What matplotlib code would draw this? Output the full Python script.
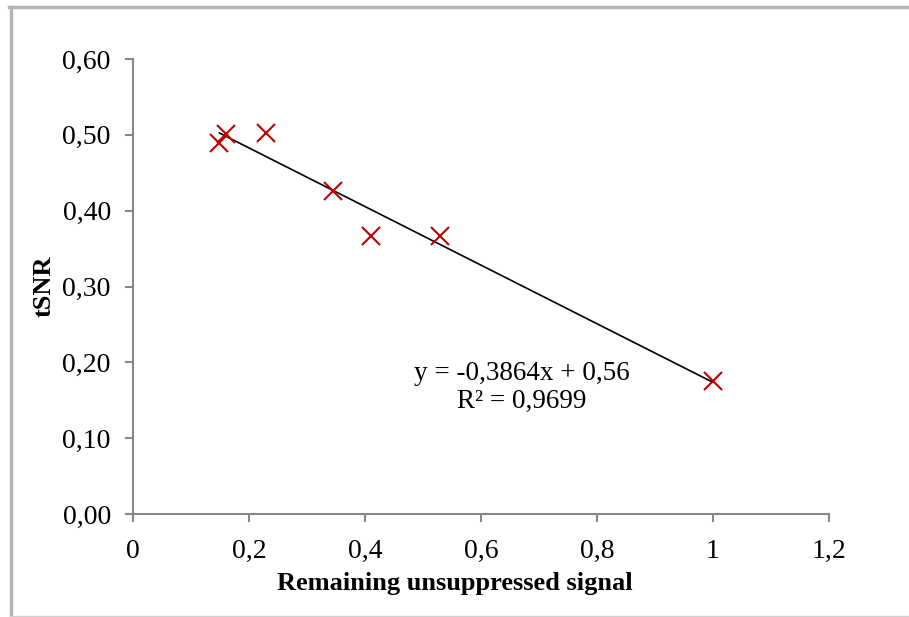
import numpy as np
import matplotlib
matplotlib.use('Agg')
import matplotlib.pyplot as plt
from matplotlib.lines import Line2D

# data
signal = [0.149, 0.160, 0.229, 0.344, 0.411, 0.529, 1.000]
tsnr = [0.489, 0.501, 0.502, 0.426, 0.366, 0.367, 0.175]
slope, intercept = -0.3864, 0.56
eq_text = 'y = -0,3864x + 0,56\nR² = 0,9699'

x_ticks = [0, 0.2, 0.4, 0.6, 0.8, 1.0, 1.2]
x_ticklabels = ['0', '0,2', '0,4', '0,6', '0,8', '1', '1,2']
y_ticks = [0, 0.1, 0.2, 0.3, 0.4, 0.5, 0.6]
y_ticklabels = ['0,00', '0,10', '0,20', '0,30', '0,40', '0,50', '0,60']

plt.rcParams['font.family'] = ['Liberation Serif', 'DejaVu Serif']

W, H = 909, 617
fig = plt.figure(figsize=(W / 100, H / 100), dpi=100)
ax = fig.add_axes([133 / W, 1 - 514 / H, (829 - 133) / W, (514 - 59) / H])

ax.plot(signal, tsnr, linestyle='none', marker='x', markersize=13,
        markeredgewidth=1.5, color='#C00000', zorder=3)

xf = np.array([min(signal), max(signal)])
ax.plot(xf, slope * xf + intercept, color='black', lw=1.2, zorder=2)

ax.text(0.671, 0.167, eq_text, ha='center', va='center',
        fontsize=19.5, linespacing=1.15)

ax.set_xlim(0, 1.2)
ax.set_ylim(0, 0.6)
ax.set_xticks(x_ticks)
ax.set_xticklabels(x_ticklabels)
ax.set_yticks(y_ticks)
ax.set_yticklabels(y_ticklabels)

for s in ['top', 'right']:
    ax.spines[s].set_visible(False)
for s in ['left', 'bottom']:
    ax.spines[s].set_color('#888888')
    ax.spines[s].set_linewidth(1.5)
ax.tick_params(direction='out', length=6, width=1.5, color='#888888',
               labelsize=20, pad=10)
ax.tick_params(axis='x', pad=12)

ax.set_xlabel('Remaining unsuppressed signal', fontsize=19, fontweight='bold')
ax.set_ylabel('tSNR', fontsize=19, fontweight='bold')
ax.xaxis.set_label_coords(0.4626, -0.152)
ax.yaxis.set_label_coords(-0.127, 0.5)
ax.xaxis.label.set_va('center')
ax.yaxis.label.set_va('center')

# outer chart border (cropped Excel frame)
fig.add_artist(Line2D([10.5 / W, 10.5 / W], [0, 1 - 6.5 / H], color='#B4B4B4',
                      lw=2.5, transform=fig.transFigure))
fig.add_artist(Line2D([9 / W, 1], [1 - 6.5 / H, 1 - 6.5 / H], color='#B4B4B4',
                      lw=2.5, transform=fig.transFigure))
fig.add_artist(Line2D([10 / W, 1], [1.5 / H, 1.5 / H], color='#D0D0D0',
                      lw=1, transform=fig.transFigure))

fig.savefig('out.png', dpi=100)
